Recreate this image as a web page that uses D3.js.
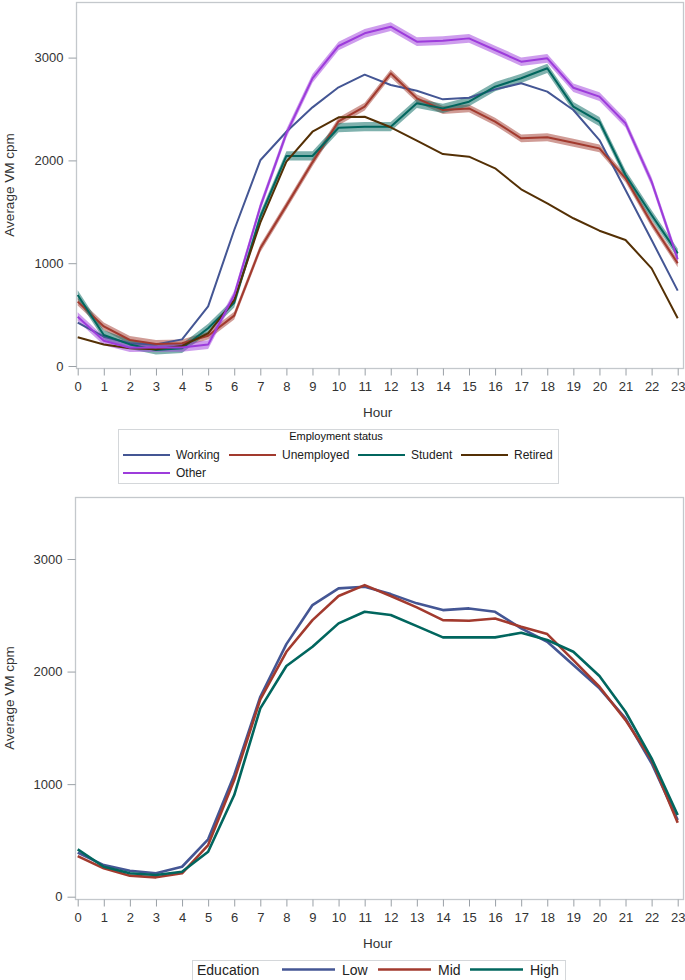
<!DOCTYPE html>
<html>
<head>
<meta charset="utf-8">
<script src="https://cdn.jsdelivr.net/npm/d3@7"></script>
<style>
  html, body { margin: 0; padding: 0; background: #fff; }
  svg { display: block; font-family: Arial, "Liberation Sans", sans-serif; }
</style>
</head>
<body>
<svg id="chart" width="685" height="980"></svg>
<script>
// ---------- DATA ----------
const hours = d3.range(0, 24);
const yTicks = [0, 1000, 2000, 3000];

const employmentGroups = ["Working", "Unemployed", "Student", "Retired", "Other"];
const working    = [421, 285, 221, 210, 259, 580, 1323, 2001, 2279, 2516, 2711, 2834, 2733, 2678, 2594, 2610, 2691, 2750, 2669, 2490, 2198, 1712, 1226, 733];
const unemployed = [626, 385, 253, 214, 221, 295, 490, 1145, 1560, 1981, 2380, 2523, 2847, 2604, 2490, 2506, 2377, 2215, 2225, 2172, 2117, 1826, 1388, 999];
const student    = [691, 302, 210, 156, 172, 367, 615, 1452, 2043, 2043, 2318, 2328, 2328, 2555, 2506, 2571, 2717, 2799, 2896, 2523, 2377, 1858, 1469, 1096];
const retired    = [279, 210, 172, 162, 195, 318, 640, 1394, 1988, 2279, 2419, 2425, 2322, 2192, 2062, 2036, 1923, 1719, 1583, 1437, 1316, 1226, 950, 464];
const other      = [480, 245, 178, 180, 180, 208, 691, 1550, 2263, 2798, 3113, 3236, 3301, 3155, 3165, 3187, 3074, 2960, 2993, 2707, 2620, 2361, 1793, 1038];
const employmentCI = [0, 38, 45, 0, 42]; // half-width of the confidence band

const educationGroups = ["Low", "Mid", "High"];
const eduLow  = [391, 281, 231, 208, 266, 510, 1081, 1776, 2244, 2591, 2739, 2753, 2688, 2606, 2546, 2561, 2531, 2383, 2265, 2058, 1851, 1584, 1185, 681];
const eduMid  = [361, 252, 187, 172, 208, 459, 1036, 1753, 2176, 2457, 2671, 2768, 2671, 2570, 2457, 2451, 2472, 2398, 2333, 2102, 1865, 1569, 1214, 658];
const eduHigh = [421, 266, 208, 193, 222, 400, 903, 1673, 2049, 2220, 2428, 2531, 2502, 2404, 2304, 2304, 2304, 2345, 2280, 2176, 1960, 1643, 1229, 726];

const employmentSeries = [working, unemployed, student, retired, other];
const educationSeries = [eduLow, eduMid, eduHigh];

const employmentColors = ["#445694", "#A23A2E", "#01665E", "#543005", "#9D3CDB"];
const educationColors = ["#445694", "#A23A2E", "#01665E"];

// ---------- DRAW ----------
const svg = d3.select("#chart");
const frameColor = "#c4c8cc";
const textColor = "#333";

function panel(cfg) {
  const g = svg.append("g");
  const x = d3.scaleLinear().domain([0, 23]).range([77.7, 677.7]);
  const y = d3.scaleLinear().domain([0, 3000]).range([cfg.y0, cfg.y3000]);

  // frame
  g.append("rect")
    .attr("x", cfg.left + 0.5).attr("y", cfg.top + 0.5)
    .attr("width", cfg.right - cfg.left).attr("height", cfg.bottom - cfg.top)
    .attr("fill", "none").attr("stroke", frameColor).attr("stroke-width", 1.3);

  // x axis
  const xa = g.append("g").attr("transform", `translate(0,${cfg.bottom + 0.5})`)
    .call(d3.axisBottom(x).tickValues(hours).tickFormat(d3.format("d")).tickSize(7).tickPadding(6));
  xa.select(".domain").remove();
  xa.selectAll(".tick line").attr("stroke", "#9aa0a6");
  xa.selectAll(".tick text").attr("fill", textColor).style("font-size", "13px")
    .style("font-family", "Arial, 'Liberation Sans', sans-serif");

  // y axis
  const ya = g.append("g").attr("transform", `translate(${cfg.left + 0.5},0)`)
    .call(d3.axisLeft(y).tickValues(yTicks).tickFormat(d3.format("d")).tickSize(8).tickPadding(5));
  ya.select(".domain").remove();
  ya.selectAll(".tick line").attr("stroke", "#9aa0a6");
  ya.selectAll(".tick text").attr("fill", textColor).style("font-size", "13px")
    .style("font-family", "Arial, 'Liberation Sans', sans-serif");

  // axis labels
  g.append("text").attr("x", 377.7).attr("y", cfg.bottom + 49)
    .attr("text-anchor", "middle").attr("fill", textColor).style("font-size", "13.5px").text("Hour");
  g.append("text")
    .attr("transform", `translate(${14},${(cfg.top + cfg.bottom) / 2}) rotate(-90)`)
    .attr("text-anchor", "middle").attr("fill", textColor).style("font-size", "13.5px").text("Average VM cpm");

  const plot = g.append("g");
  // bands
  cfg.series.forEach((s, i) => {
    const hw = cfg.ci ? cfg.ci[i] : 0;
    if (hw > 0) {
      const area = d3.area().x((d, j) => x(hours[j])).y0(d => y(d - hw)).y1(d => y(d + hw));
      plot.append("path").datum(s).attr("d", area)
        .attr("fill", cfg.colors[i]).attr("fill-opacity", 0.5).attr("stroke", "none");
    }
  });
  // lines
  cfg.series.forEach((s, i) => {
    const line = d3.line().x((d, j) => x(hours[j])).y(d => y(d));
    plot.append("path").datum(s).attr("d", line)
      .attr("fill", "none").attr("stroke", cfg.colors[i])
      .attr("stroke-width", cfg.lineWidth).attr("stroke-linejoin", "round");
  });
  return { x, y };
}

panel({
  top: 2, bottom: 368, left: 76, right: 683,
  y0: 366, y3000: 57.6,
  series: employmentSeries, colors: employmentColors, ci: employmentCI, lineWidth: 2
});

panel({
  top: 497, bottom: 899, left: 75, right: 683,
  y0: 896.7, y3000: 559,
  series: educationSeries, colors: educationColors, ci: null, lineWidth: 2.6
});

// ---------- LEGEND 1 ----------
const lg1 = svg.append("g");
lg1.append("rect").attr("x", 118.5).attr("y", 429.5).attr("width", 440).attr("height", 54)
  .attr("fill", "#fff").attr("stroke", "#d4d7da").attr("stroke-width", 1);
lg1.append("text").attr("x", 336).attr("y", 440).attr("text-anchor", "middle")
  .attr("fill", "#111").style("font-size", "11px").text("Employment status");
const leg1Pos = [[123, 459], [229, 459], [358, 459], [461, 459], [123, 477]];
employmentGroups.forEach((name, i) => {
  const [lx, ly] = leg1Pos[i];
  lg1.append("line").attr("x1", lx).attr("x2", lx + 47).attr("y1", ly - 4).attr("y2", ly - 4)
    .attr("stroke", employmentColors[i]).attr("stroke-width", 2.2);
  lg1.append("text").attr("x", lx + 53).attr("y", ly).attr("fill", "#222")
    .style("font-size", "12px").text(name);
});

// ---------- LEGEND 2 ----------
const lg2 = svg.append("g");
lg2.append("rect").attr("x", 192.5).attr("y", 960.5).attr("width", 373).attr("height", 22)
  .attr("fill", "#fff").attr("stroke", "#d4d7da").attr("stroke-width", 1);
lg2.append("text").attr("x", 197).attr("y", 974.5).attr("fill", "#222")
  .style("font-size", "14px").text("Education");
const leg2Pos = [282, 378, 470];
educationGroups.forEach((name, i) => {
  const lx = leg2Pos[i];
  lg2.append("line").attr("x1", lx).attr("x2", lx + 53).attr("y1", 969.5).attr("y2", 969.5)
    .attr("stroke", educationColors[i]).attr("stroke-width", 2.6);
  lg2.append("text").attr("x", lx + 60).attr("y", 974.5).attr("fill", "#222")
    .style("font-size", "14px").text(name);
});
</script>
</body>
</html>
